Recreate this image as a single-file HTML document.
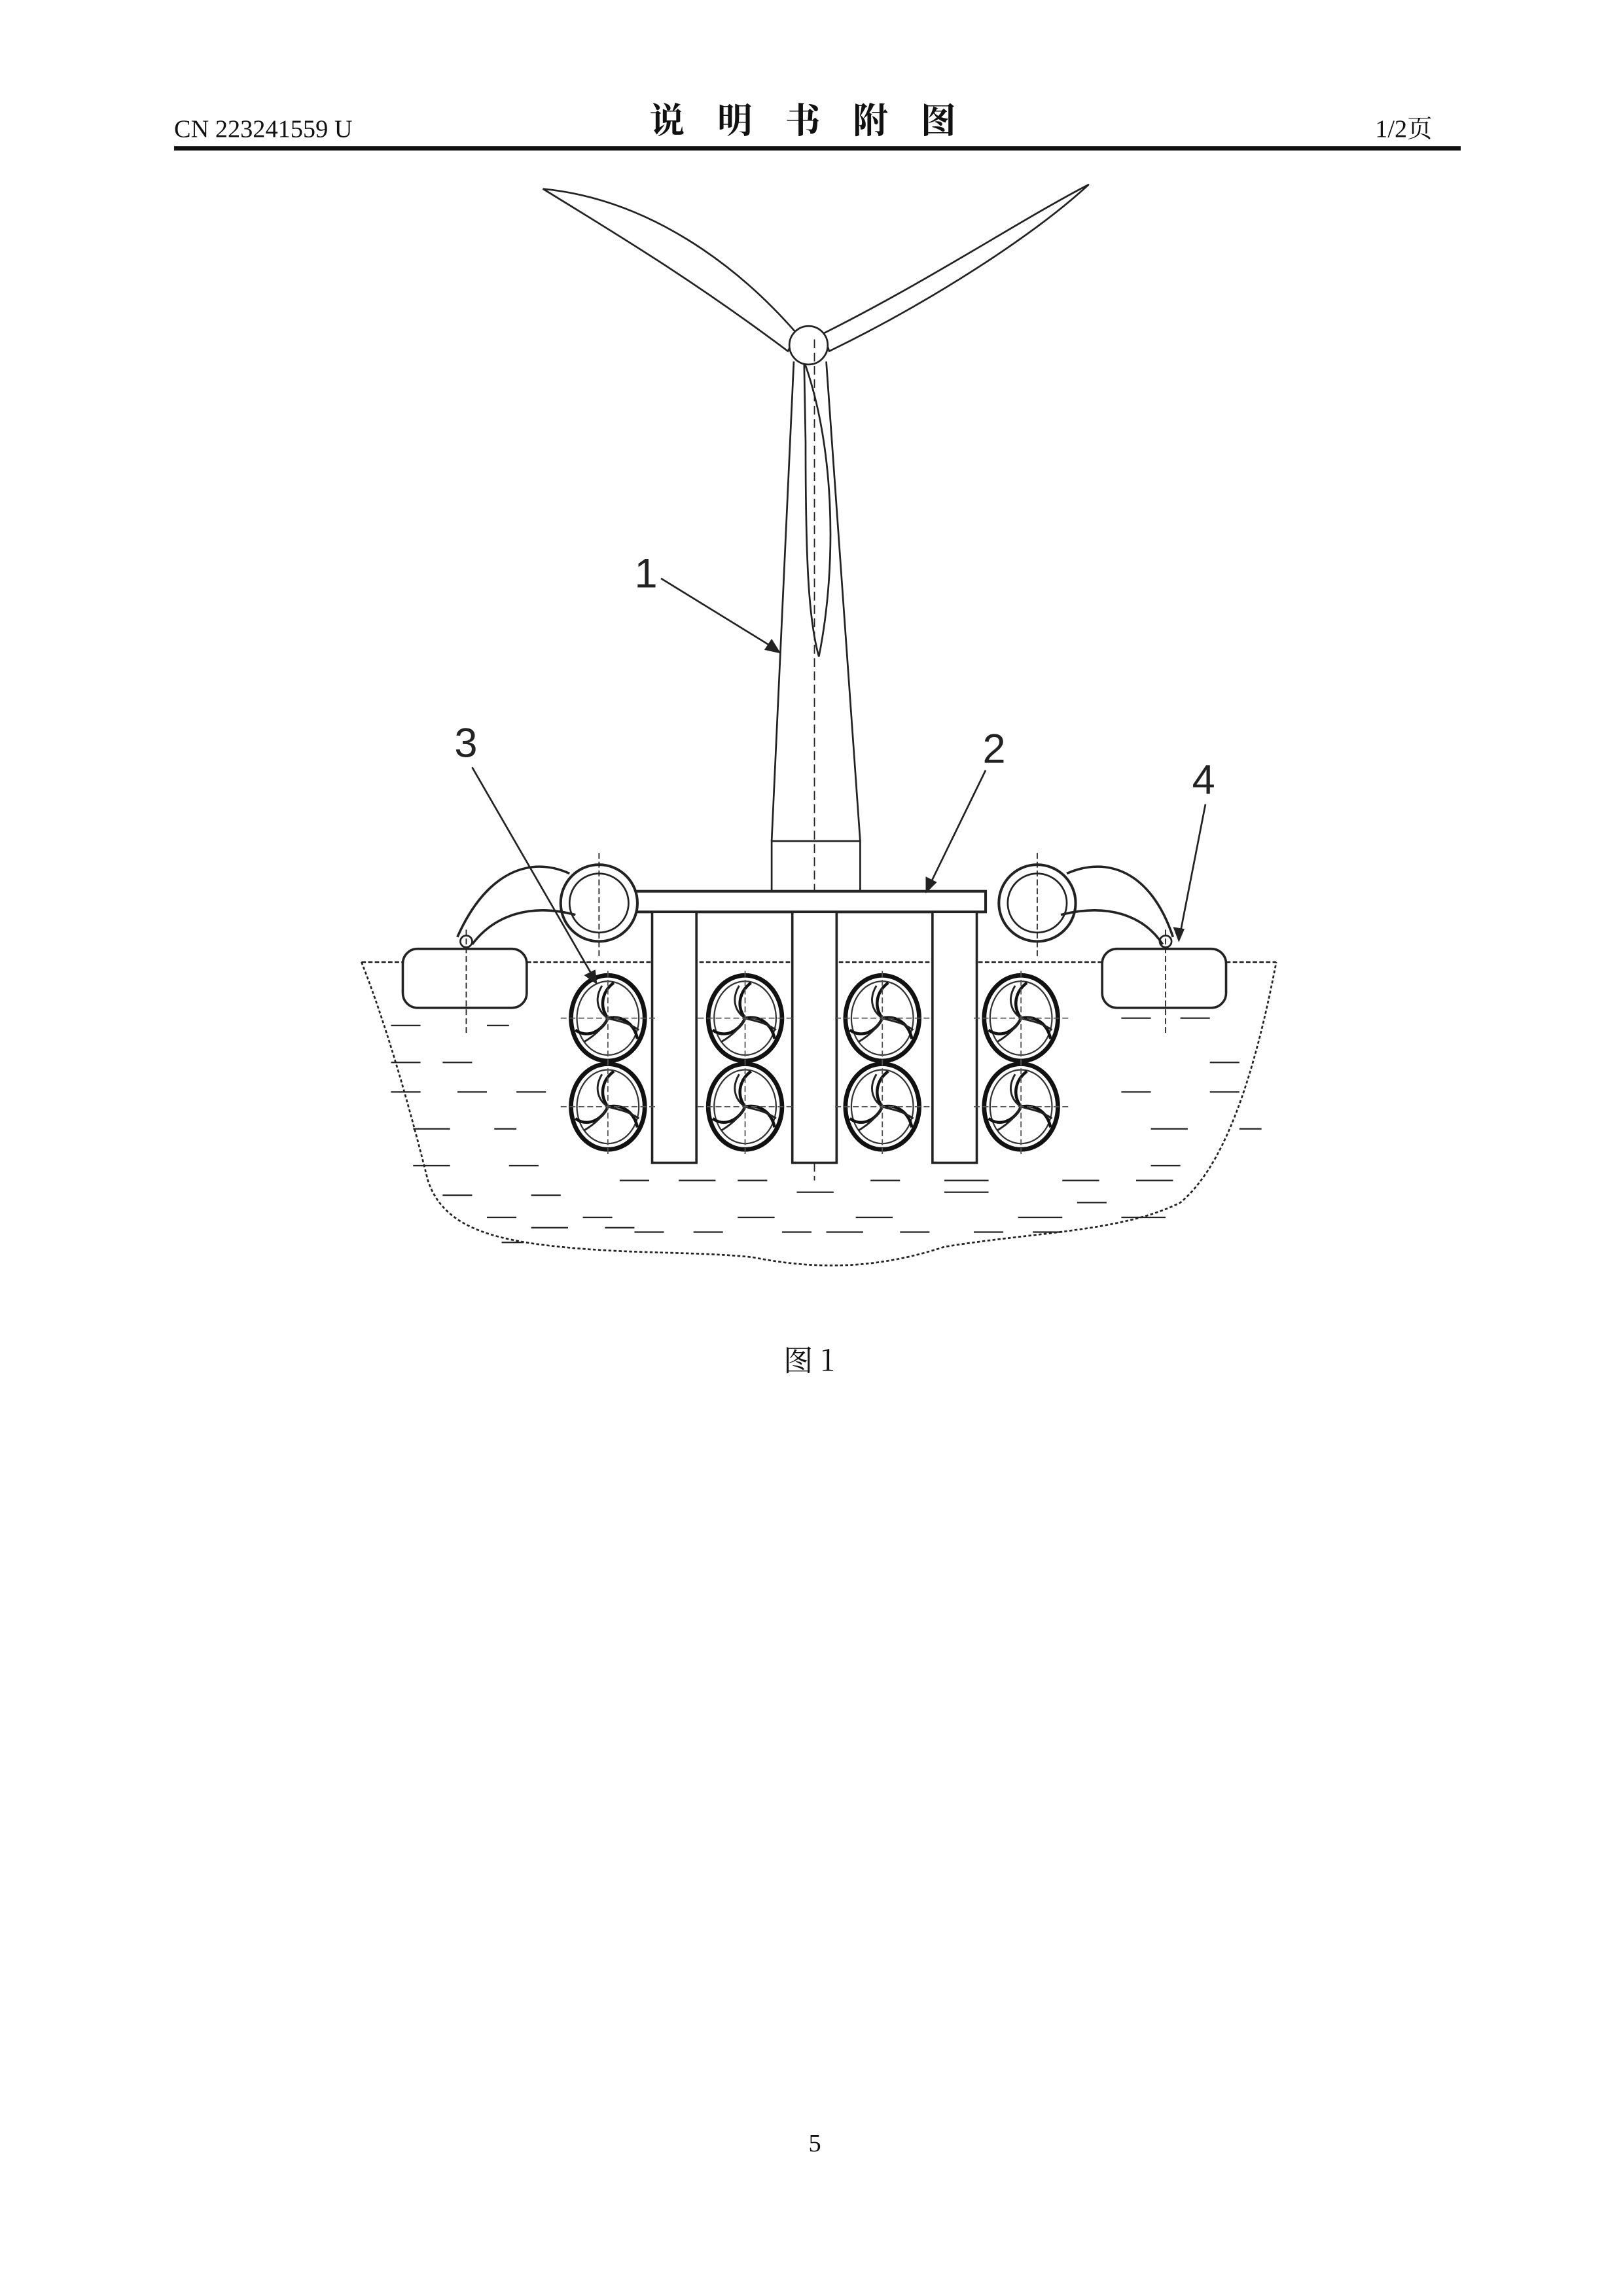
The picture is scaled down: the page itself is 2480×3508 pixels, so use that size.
<!DOCTYPE html>
<html><head><meta charset="utf-8"><style>
html,body{margin:0;padding:0;background:#fff}
svg{display:block}
</style></head><body>
<svg width="2480" height="3508" viewBox="0 0 1100 1556" preserveAspectRatio="none" xmlns="http://www.w3.org/2000/svg">
<defs>
<g id="tb">
 <ellipse cx="0" cy="0" rx="25" ry="29" fill="none" stroke="#111" stroke-width="3"/>
 <ellipse cx="0" cy="0" rx="21" ry="25" fill="none" stroke="#333" stroke-width="1"/>
 <path d="M0,0 C-6,-8 -4,-18 4,-24 M0,0 C10,-2 18,4 20,14 M0,0 C-4,9 -14,14 -22,8" fill="none" stroke="#111" stroke-width="2"/>
 <path d="M-4,-22 C-10,-12 -6,-4 0,0 M21,8 C12,2 6,2 0,0 M-16,16 C-6,10 -2,4 0,0" fill="none" stroke="#222" stroke-width="1.3"/>
 <line x1="-32" y1="0" x2="32" y2="0" stroke="#555" stroke-width="0.8" stroke-dasharray="4,2"/>
 <line x1="0" y1="-32" x2="0" y2="32" stroke="#555" stroke-width="0.8" stroke-dasharray="4,2"/>
</g>
</defs>
<g font-family="Liberation Serif, Noto Serif CJK SC, serif" fill="#111">
<text x="118" y="93" font-size="17">CN 223241559 U</text>
<text x="440" y="90" font-size="24" letter-spacing="22" font-family="Noto Serif CJK SC, serif" font-weight="bold">说明书附图</text>
<text x="932" y="93" font-size="17">1/2<tspan font-family="Noto Serif CJK SC, serif">页</tspan></text>
<text x="531" y="929" font-size="20" font-family="Noto Serif CJK SC, serif">图 1</text>
<text x="548" y="1458" font-size="17">5</text>
</g>
<rect x="118" y="99" width="872" height="3" fill="#111"/>

<g fill="none" stroke="#222" stroke-width="1.2">
<path d="M245,652 C260,690 275,740 290,800 C300,830 330,840 380,845 C430,850 470,848 510,852 C560,862 600,858 640,845 C700,835 760,835 800,815 C830,790 850,730 865,652" stroke-dasharray="2,1.5"/>
<line x1="245" y1="652" x2="273" y2="652" stroke-dasharray="3,1.5"/>
<line x1="357" y1="652" x2="747" y2="652" stroke-dasharray="3,1.5"/>
<line x1="831" y1="652" x2="865" y2="652" stroke-dasharray="3,1.5"/>
<g stroke-width="1">
<path d="M265,695h20M330,695h15M265,720h20M300,720h20M265,740h20M310,740h20M350,740h20M280,765h25M335,765h15M280,790h25M345,790h20M300,810h20M360,810h20M330,825h20M395,825h20M360,832h25M410,832h20M340,842h15M500,825h25M580,825h25M640,800h30M640,808h30M720,800h25M770,800h25M690,825h30M760,825h30M730,815h20M760,690h20M800,690h20M820,720h20M760,740h20M820,740h20M780,765h25M840,765h15M780,790h20M460,800h25M540,808h25M420,800h20M500,800h20M590,800h20M430,835h20M470,835h20M530,835h20M560,835h25M610,835h20M660,835h20M700,835h20"/>
</g>
<path d="M368,128 C440,135 500,180 540,226 L534,238 C470,190 420,160 368,128 Z" fill="#fff"/>
<path d="M738,125 C700,160 630,205 562,238 L558,226 C630,190 690,150 738,125 Z" fill="#fff"/>
<path d="M545,245 C565,300 568,380 555,445 C548,420 546,380 546,300 Z" fill="#fff"/>
<path d="M538,245 L523,570 M560,245 L583,570"/>
<rect x="523" y="570" width="60" height="34" fill="#fff"/>
<circle cx="548" cy="234" r="13" fill="#fff"/>
<line x1="552" y1="230" x2="552" y2="800" stroke-dasharray="6,3" stroke-width="0.8"/>
<rect x="430" y="604" width="238" height="14" fill="#fff" stroke-width="1.8"/>
<rect x="442" y="618" width="30" height="170" fill="#fff" stroke-width="1.6"/>
<rect x="537" y="618" width="30" height="170" fill="#fff" stroke-width="1.6"/>
<rect x="632" y="618" width="30" height="170" fill="#fff" stroke-width="1.6"/>
<circle cx="406" cy="612" r="26" stroke-width="1.8" fill="#fff"/>
<circle cx="406" cy="612" r="20"/>
<circle cx="703" cy="612" r="26" stroke-width="1.8" fill="#fff"/>
<circle cx="703" cy="612" r="20"/>
<line x1="406" y1="578" x2="406" y2="650" stroke-dasharray="4,2" stroke-width="0.8"/>
<line x1="703" y1="578" x2="703" y2="650" stroke-dasharray="4,2" stroke-width="0.8"/>
<path d="M386,592 C360,580 330,590 310,635 M390,620 C360,612 335,620 320,640" stroke-width="1.6"/>
<path d="M723,592 C750,580 780,590 795,635 M719,620 C750,612 775,620 788,640" stroke-width="1.6"/>
<circle cx="316" cy="638" r="4"/>
<circle cx="790" cy="638" r="4"/>
<rect x="273" y="643" width="84" height="40" rx="10" fill="#fff" stroke-width="1.6"/>
<rect x="747" y="643" width="84" height="40" rx="10" fill="#fff" stroke-width="1.6"/>
<line x1="316" y1="630" x2="316" y2="700" stroke-dasharray="4,2" stroke-width="0.8"/>
<line x1="790" y1="630" x2="790" y2="700" stroke-dasharray="4,2" stroke-width="0.8"/>
</g>
<use href="#tb" x="412" y="690"/><use href="#tb" x="505" y="690"/><use href="#tb" x="598" y="690"/><use href="#tb" x="692" y="690"/>
<use href="#tb" x="412" y="750"/><use href="#tb" x="505" y="750"/><use href="#tb" x="598" y="750"/><use href="#tb" x="692" y="750"/>
<g font-family="Liberation Sans, sans-serif" font-size="28" fill="#222">
<text x="430" y="398">1</text><text x="666" y="517">2</text><text x="308" y="513">3</text><text x="808" y="538">4</text>
</g>
<g stroke="#222" stroke-width="1.2" fill="#222">
<line x1="448" y1="392" x2="526" y2="440"/><path d="M528,442 l-9,-2 l4,-6 z"/>
<line x1="668" y1="522" x2="630" y2="600"/><path d="M628,604 l0,-9 l6,3 z"/>
<line x1="320" y1="520" x2="402" y2="662"/><path d="M404,666 l-7,-5 l6,-3 z"/>
<line x1="817" y1="545" x2="800" y2="632"/><path d="M799,637 l-3,-8 l6,1 z"/>
</g>
</svg>
</body></html>
